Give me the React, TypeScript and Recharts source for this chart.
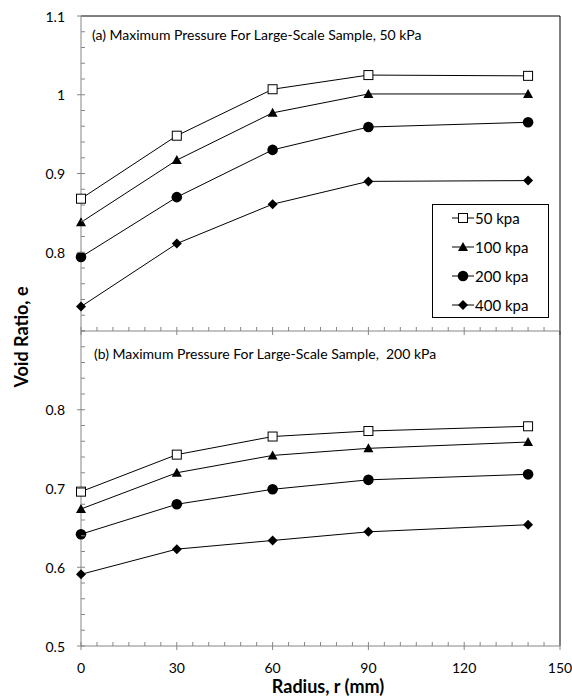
import React from 'react';
import { LineChart, Line, XAxis, YAxis, ReferenceLine, Legend } from 'recharts';

// ---- data ----
const radius = [0, 30, 60, 90, 140];
const seriesNames = ['50 kpa', '100 kpa', '200 kpa', '400 kpa'];

// (a) Maximum pressure 50 kPa
const topP50 = [0.868, 0.948, 1.007, 1.025, 1.024];
const topP100 = [0.838, 0.917, 0.977, 1.001, 1.001];
const topP200 = [0.794, 0.87, 0.93, 0.959, 0.965];
const topP400 = [0.731, 0.811, 0.861, 0.89, 0.891];

// (b) Maximum pressure 200 kPa
const botP50 = [0.696, 0.743, 0.766, 0.773, 0.779];
const botP100 = [0.674, 0.72, 0.742, 0.751, 0.759];
const botP200 = [0.642, 0.68, 0.699, 0.711, 0.718];
const botP400 = [0.591, 0.623, 0.634, 0.645, 0.654];

const xMajorTicks = [0, 30, 60, 90, 120, 150];
const topYMajor = [0.8, 0.9, 1, 1.1];
const botYMajor = [0.5, 0.6, 0.7, 0.8];

const FONT = 'Lato, "Open Sans", "DejaVu Sans", sans-serif';
const AXIS = '#868686';

const keys = ['s50', 's100', 's200', 's400'];

function buildRows(cols: number[][]) {
  return radius.map((r, i) => {
    const row: any = { r };
    keys.forEach((k, j) => (row[k] = cols[j][i]));
    return row;
  });
}

const topRows = buildRows([topP50, topP100, topP200, topP400]);
const botRows = buildRows([botP50, botP100, botP200, botP400]);

function range(a: number, b: number, step: number) {
  const out: number[] = [];
  for (let i = 0; a + i * step <= b + 1e-9; i++) out.push(Math.round((a + i * step) * 1000) / 1000);
  return out;
}

const isIn = (arr: number[], v: number) => arr.some((m) => Math.abs(m - v) < 1e-6);

// ---- markers ----
function drawMarker(kind: number, cx: number, cy: number, key?: any) {
  if (kind === 0)
    return <rect key={key} x={cx - 4.5} y={cy - 4.5} width={9} height={9} fill="#fff" stroke="#000" strokeWidth={1} />;
  if (kind === 1)
    return <polygon key={key} points={`${cx},${cy - 5} ${cx + 5},${cy + 4} ${cx - 5},${cy + 4}`} fill="#000" />;
  if (kind === 2) return <circle key={key} cx={cx} cy={cy} r={5.3} fill="#000" />;
  return <polygon key={key} points={`${cx},${cy - 5} ${cx + 5},${cy} ${cx},${cy + 5} ${cx - 5},${cy}`} fill="#000" />;
}

const makeDot = (kind: number) => (p: any) => {
  const { cx, cy, index } = p;
  if (cx == null || cy == null) return <g key={`d${index}`} />;
  return drawMarker(kind, cx, cy, `d${kind}-${index}`);
};

// ---- ticks ----
const makeYTick = (majors: number[]) => (props: any) => {
  const { x, y, payload } = props;
  const v = payload.value;
  const major = isIn(majors, v);
  return (
    <g>
      <line x1={major ? x - 4 : x} x2={x + 4} y1={y} y2={y} stroke={AXIS} strokeWidth={1} />
      {major && (
        <text x={x - 16} y={y} textAnchor="end" dominantBaseline="central" fontFamily={FONT} fontSize={14} fill="#000">
          {String(v)}
        </text>
      )}
    </g>
  );
};

const makeXTick = (labels: boolean) => (props: any) => {
  const { x, y, payload } = props;
  const v = payload.value;
  const major = isIn(xMajorTicks, v);
  return (
    <g>
      <line x1={x} x2={x} y1={y - 4} y2={major ? y + 4 : y} stroke={AXIS} strokeWidth={1} />
      {major && labels && (
        <text x={x} y={y + 21} textAnchor="middle" dominantBaseline="central" fontFamily={FONT} fontSize={14} fill="#000">
          {String(v)}
        </text>
      )}
    </g>
  );
};

const xTicks = range(0, 150, 5);

// ---- legend ----
const LegendBox = () => (
  <svg width={117} height={114} style={{ display: 'block' }}>
    <rect x={0.5} y={0.5} width={116} height={113} fill="#fff" stroke="#000" strokeWidth={1} />
    {seriesNames.map((n, i) => {
      const cy = 14 + i * 29;
      return (
        <g key={n}>
          <line x1={20} x2={42} y1={cy} y2={cy} stroke="#000" strokeWidth={1} />
          {drawMarker(i, 31, cy)}
          <text x={43} y={cy} dominantBaseline="central" fontFamily={FONT} fontSize={15} fill="#000">
            {n}
          </text>
        </g>
      );
    })}
  </svg>
);

function Series() {
  return keys.map((k, i) => (
    <Line
      key={k}
      dataKey={k}
      name={seriesNames[i]}
      stroke="#000"
      strokeWidth={1}
      dot={makeDot(i)}
      activeDot={false}
      isAnimationActive={false}
    />
  ));
}

export default function App() {
  return (
    <div style={{ position: 'absolute', left: 0, top: 0, width: 572, height: 696, background: '#fff', fontFamily: FONT }}>
      <div style={{ position: 'absolute', left: 0, top: 0 }}>
        <LineChart width={572} height={345} data={topRows} margin={{ top: 16, right: 12, left: 0, bottom: 0 }}>
          <XAxis
            dataKey="r"
            type="number"
            domain={[0, 150]}
            ticks={xTicks}
            interval={0}
            tick={makeXTick(false)}
            tickLine={false}
            tickSize={0}
            tickMargin={0}
            height={14}
            axisLine={{ stroke: AXIS }}
          />
          <YAxis
            type="number"
            domain={[0.7, 1.1]}
            ticks={range(0.7, 1.1, 0.02)}
            interval={0}
            tick={makeYTick(topYMajor)}
            tickLine={false}
            tickSize={0}
            tickMargin={0}
            width={81}
            axisLine={{ stroke: AXIS }}
            allowDataOverflow
          />
          <ReferenceLine y={1.1} stroke="#000" strokeWidth={1} />
          <ReferenceLine x={150} stroke="#000" strokeWidth={1} />
          {Series()}
          <Legend
            layout="vertical"
            align="center"
            verticalAlign="middle"
            content={() => <LegendBox />}
            wrapperStyle={{ position: 'absolute', left: 432, top: 204, width: 117, height: 114 }}
          />
        </LineChart>
      </div>
      <div style={{ position: 'absolute', left: 0, top: 315 }}>
        <LineChart width={572} height={381} data={botRows} margin={{ top: 16, right: 12, left: 0, bottom: 0 }}>
          <XAxis
            dataKey="r"
            type="number"
            domain={[0, 150]}
            ticks={xTicks}
            interval={0}
            tick={makeXTick(true)}
            tickLine={false}
            tickSize={0}
            tickMargin={0}
            height={50}
            axisLine={{ stroke: AXIS }}
          />
          <YAxis
            type="number"
            domain={[0.5, 0.9]}
            ticks={range(0.5, 0.9, 0.02)}
            interval={0}
            tick={makeYTick(botYMajor)}
            tickLine={false}
            tickSize={0}
            tickMargin={0}
            width={81}
            axisLine={{ stroke: AXIS }}
            allowDataOverflow
          />
          <ReferenceLine x={150} stroke="#000" strokeWidth={1} />
          {Series()}
        </LineChart>
      </div>
      <svg
        width={572}
        height={696}
        style={{ position: 'absolute', left: 0, top: 0, pointerEvents: 'none' }}
      >
        <text x={92} y={34} dominantBaseline="central" fontFamily={FONT} fontSize={14} fill="#000">
          (a) Maximum Pressure For Large-Scale Sample, 50 kPa
        </text>
        <text x={94} y={353} dominantBaseline="central" fontFamily={FONT} fontSize={14} fill="#000" style={{ whiteSpace: 'pre' }}>
          {'(b) Maximum Pressure For Large-Scale Sample,  200 kPa'}
        </text>
        <text
          x={21}
          y={337}
          transform="rotate(-90 21 337)"
          textAnchor="middle"
          dominantBaseline="central"
          fontFamily={FONT}
          fontSize={18}
          fontWeight="bold"
          fill="#000"
        >
          Void Ratio, e
        </text>
        <text x={328} y={686} textAnchor="middle" dominantBaseline="central" fontFamily={FONT} fontSize={18} fontWeight="bold" fill="#000">
          Radius, r (mm)
        </text>
      </svg>
    </div>
  );
}
